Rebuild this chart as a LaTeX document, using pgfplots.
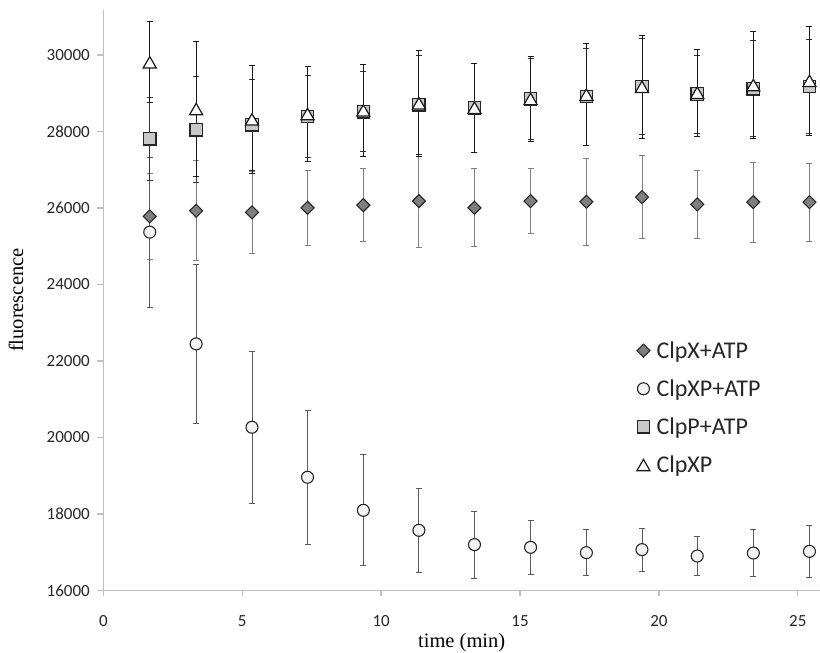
\documentclass[border=0pt]{standalone}
\usepackage{fontspec}
\setmainfont{Liberation Serif}
\newfontfamily\carlito{Carlito}
\usepackage{pgfplots}
\pgfplotsset{compat=1.18}
\usetikzlibrary{calc}

\definecolor{axgray}{HTML}{BFBFBF}
\definecolor{dmd}{HTML}{7F7F7F}
\definecolor{sqr}{HTML}{C8C8C8}
\definecolor{circ}{HTML}{F2F2F2}

% x, value, error
\pgfplotstableread{
x     y      e
1.67  25778  1120
3.34  25924  1308
5.35  25882  1065
7.35  26003  985
9.36  26073  950
11.36 26178  1222
13.36 26003  1017
15.38 26178  845
17.39 26160  1137
19.39 26283  1077
21.38 26091  880
23.40 26152  1045
25.42 26152  1020
}\clpx
\pgfplotstableread{
x     y      e
1.67  25367  1958
3.34  22444  2070
5.35  20265  1985
7.35  18957  1745
9.36  18093  1448
11.36 17570  1100
13.36 17196  880
15.38 17125  715
17.39 16986  605
19.39 17065  560
21.38 16898  515
23.40 16976  605
25.42 17020  675
}\clpxpatp
\pgfplotstableread{
x     y      e
1.67  27808  1085
3.34  28044  1387
5.35  28172  1190
7.35  28393  1065
9.36  28515  1047
11.36 28694  1286
13.36 28620  1160
15.38 28850  1060
17.39 28910  1270
19.39 29173  1260
21.38 28978  1020
23.40 29117  1256
25.42 29178  1221
}\clppatp
\pgfplotstableread{
x     y      e
1.67  29807  1060
3.34  28585  1770
5.35  28315  1405
7.35  28455  1239
9.36  28550  1205
11.36 28735  1378
13.36 28620  1160
15.38 28850  1100
17.39 28960  1330
19.39 29165  1338
21.38 29012  1134
23.40 29212  1405
25.42 29322  1426
}\clpxp

\begin{document}
\begin{tikzpicture}
\begin{axis}[
    name=ax,
    scale only axis,
    width=716.2bp, height=580bp,
    xmin=0, xmax=25.8,
    ymin=16000, ymax=31175,
    axis x line=bottom, axis y line=left,
    axis line style={-, draw=axgray, line width=1.3bp},
    tick style={draw=axgray, line width=1.3bp},
    tick align=outside,
    major tick length=6bp,
    xtick={0,5,...,25},
    ytick={16000,18000,...,30000},
    scaled ticks=false,
    /pgf/number format/set thousands separator={},
    /pgf/number format/assume math mode=true,
    ticklabel style={font=\carlito\fontsize{17bp}{20bp}\selectfont, text=black!85},
    xticklabel style={yshift=-16bp},
    yticklabel style={xshift=-4bp},
    label style={font=\fontsize{20.5bp}{24bp}\selectfont},
    xlabel={time (min)},
    ylabel={fluorescence},
    xlabel style={at={(axis description cs:0.5,0)}, anchor=base, yshift=-57bp},
    ylabel style={at={(axis description cs:-0.1219,0.5)}, anchor=center, rotate=0},
    legend style={draw=none, fill=none, at={(axis description cs:0.740,0.436)},
        anchor=north west, font=\carlito\fontsize{24bp}{28bp}\selectfont,
        row sep=16bp, column sep=4.5bp, text=black!85},
    legend cell align={left},
    error bars/y dir=both,
    error bars/y explicit,
]
\addplot[only marks, mark=square*, mark size=4.6bp,
    mark options={rotate=45, fill=dmd, draw=black!85, line width=1.1bp},
    error bars/error bar style={draw=dmd, line width=0.9bp},
    error bars/error mark options={rotate=90, mark size=3bp, draw=dmd, line width=0.9bp}]
    table[x=x, y=y, y error=e] {\clpx};
\addlegendentry{ClpX+ATP}
\addplot[only marks, mark=*, mark size=6bp,
    mark options={fill=circ, draw=black!85, line width=1.1bp},
    error bars/error bar style={draw=black!65, line width=0.9bp},
    error bars/error mark options={rotate=90, mark size=3bp, draw=black!65, line width=0.9bp}]
    table[x=x, y=y, y error=e] {\clpxpatp};
\addlegendentry{ClpXP+ATP}
\addplot[only marks, mark=square*, mark size=6.2bp,
    mark options={fill=sqr, draw=black!85, line width=1.3bp},
    error bars/error bar style={draw=black!80, line width=0.9bp},
    error bars/error mark options={rotate=90, mark size=3bp, draw=black!80, line width=0.9bp}]
    table[x=x, y=y, y error=e] {\clppatp};
\addlegendentry{ClpP+ATP}
\addplot[only marks, mark=triangle*, mark size=7.6bp,
    mark options={fill=white, draw=black!90, line width=1.2bp, yshift=-1.9bp},
    error bars/error bar style={draw=black!90, line width=0.9bp},
    error bars/error mark options={rotate=90, mark size=3bp, draw=black!90, line width=0.9bp, yshift=0bp}]
    table[x=x, y=y, y error=e] {\clpxp};
\addlegendentry{ClpXP}
\end{axis}
\pgfresetboundingbox
\path[use as bounding box] ($(ax.south west)+(-103.3bp,-62bp)$) rectangle ($(ax.north east)+(0,10bp)$);
\end{tikzpicture}
\end{document}
